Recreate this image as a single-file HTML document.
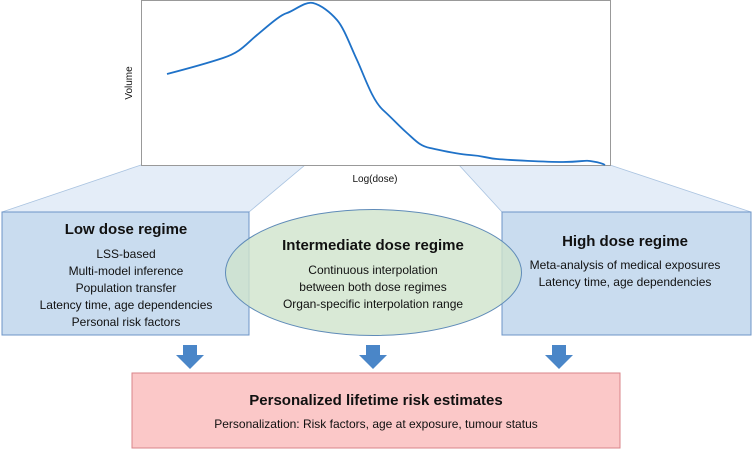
<!DOCTYPE html>
<html><head><style>
body{margin:0;width:752px;height:450px;background:#fff;overflow:hidden;font-family:"Liberation Sans",sans-serif}
svg text{font-family:"Liberation Sans",sans-serif;fill:#111}
</style></head><body>
<svg width="752" height="450" viewBox="0 0 752 450">
<polygon points="141,165 305,165 249,212 2,212" fill="#e4edf8" stroke="#a9c3e0" stroke-width="0.8"/>
<polygon points="459,165 610,165 751,212 502,212" fill="#e4edf8" stroke="#a9c3e0" stroke-width="0.8"/>
<rect x="141.5" y="0.5" width="469" height="165" fill="#fff" stroke="#999" stroke-width="1"/>
<path d="M167,74 C190,68 205,64 223,58 S245,45 257,35 S280,15 287,13 S305,1 313,3 S330,12 337,20 S350,45 357,60 S372,100 383,110 S398,125 407,133 S420,146 430,148 S455,154 470,155 S485,158 497,159 S545,162 563,162 S585,160 590,161 S600,162 605,165" fill="none" stroke="#1f72c8" stroke-width="1.8"/>
<text x="375" y="182" font-size="10" text-anchor="middle" fill="#333">Log(dose)</text>
<text transform="translate(132,83) rotate(-90)" font-size="10" text-anchor="middle" fill="#333">Volume</text>
<rect x="2" y="212" width="247" height="123" fill="#c9dcef" stroke="#6d95c7" stroke-width="1"/>
<rect x="502" y="212" width="249" height="123" fill="#c9dcef" stroke="#6d95c7" stroke-width="1"/>
<ellipse cx="373.5" cy="272.5" rx="148" ry="63" fill="#cfe3cc" fill-opacity="0.8" stroke="#5f8bb8" stroke-width="1"/>
<g text-anchor="middle">
<text x="126" y="234" font-size="15" font-weight="bold">Low dose regime</text>
<g font-size="12"><text x="126" y="258">LSS-based</text><text x="126" y="275">Multi-model inference</text><text x="126" y="292">Population transfer</text><text x="126" y="309">Latency time, age dependencies</text><text x="126" y="326">Personal risk factors</text></g>
<text x="373" y="250" font-size="15" font-weight="bold">Intermediate dose regime</text>
<g font-size="12"><text x="373" y="274">Continuous interpolation</text><text x="373" y="291">between both dose regimes</text><text x="373" y="308">Organ-specific interpolation range</text></g>
<text x="625" y="246" font-size="15" font-weight="bold">High dose regime</text>
<g font-size="12"><text x="625" y="269">Meta-analysis of medical exposures</text><text x="625" y="286">Latency time, age dependencies</text></g>
</g>
<g fill="#4a86c8">
<polygon points="183,345 197,345 197,355 204,355 190,369 176,355 183,355"/>
<polygon points="366,345 380,345 380,355 387,355 373,369 359,355 366,355"/>
<polygon points="552,345 566,345 566,355 573,355 559,369 545,355 552,355"/>
</g>
<rect x="132" y="373" width="488" height="75" fill="#fbc8c8" stroke="#d9848a" stroke-width="1"/>
<text x="376" y="405" font-size="15" font-weight="bold" text-anchor="middle">Personalized lifetime risk estimates</text>
<text x="376" y="428" font-size="12" text-anchor="middle">Personalization: Risk factors, age at exposure, tumour status</text>
</svg>
</body></html>
